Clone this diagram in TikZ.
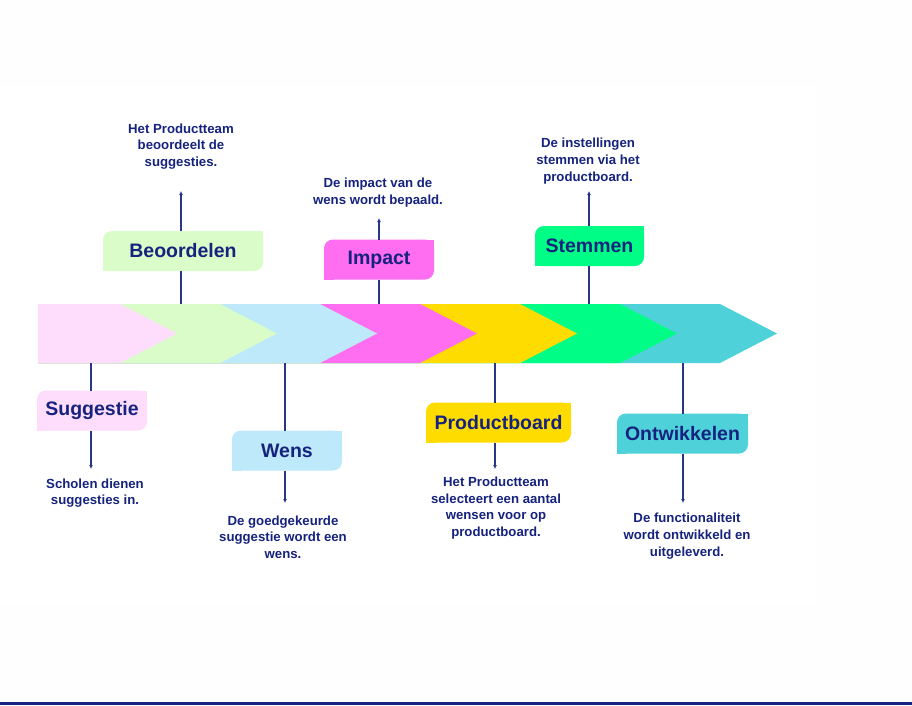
\documentclass[tikz,border=0pt]{standalone}
\usepackage{fontspec}
\setmainfont{Liberation Sans}
\usetikzlibrary{arrows.meta}

\definecolor{navy}{HTML}{16237E}
\definecolor{linec}{HTML}{2A3688}
\definecolor{pinkc}{HTML}{FDDDFB}
\definecolor{greenc}{HTML}{DAFCC8}
\definecolor{bluec}{HTML}{BEE9FB}
\definecolor{magc}{HTML}{FF6DF0}
\definecolor{yelc}{HTML}{FFDC00}
\definecolor{grnc}{HTML}{00FD86}
\definecolor{tealc}{HTML}{4FD1DA}
\definecolor{paper}{HTML}{FEFEFE}

% leaf-shaped label: rounded top-left and bottom-right, square elsewhere
\newcommand\squarecorners[2]{%
  \fill[#2] (#1.north east) rectangle ([xshift=-10pt,yshift=-10pt]#1.north east);
  \fill[#2] (#1.south west) rectangle ([xshift=10pt,yshift=10pt]#1.south west);}

\begin{document}
\begin{tikzpicture}[x=1pt,y=-1pt,
  stagebox/.style={fill=#1, rounded corners=9pt, minimum height=40pt,
    inner sep=0pt, outer sep=0pt, text=navy,
    font=\bfseries\fontsize{19.5}{22}\selectfont},
  desc/.style={align=center, text=navy, inner sep=0pt,
    font=\bfseries\fontsize{13.2}{16.7}\selectfont},
  link/.style={draw=linec, line width=1.1pt},
  arr/.style={link, -{Latex[length=4pt,width=4pt]}}]

\useasboundingbox (0,0) rectangle (912,705);
\fill[paper] (0,0) rectangle (912,705);
\fill[white] (0,85) rectangle (815,605);

% chevron band, drawn back to front so each segment covers the next
\foreach \c/\i in {tealc/6,grnc/5,yelc/4,magc/3,bluec/2,greenc/1,pinkc/0}{
  \pgfmathsetmacro\R{120+100*\i}
  \pgfmathsetmacro\T{177+100*\i}
  \fill[\c] (38,304) -- (\R,304) -- (\T,333.5) -- (\R,363) -- (38,363) -- cycle;
}

% stage labels
\node[stagebox=greenc, minimum width=160pt] (beo) at (183,251) {Beoordelen};
\node[stagebox=magc,   minimum width=110pt] (imp) at (379,259.5) {Impact};
\node[stagebox=grnc,   minimum width=109pt] (stem) at (589.5,246) {Stemmen};
\node[stagebox=pinkc,  minimum width=110pt] (sug) at (92,410.5) {Suggestie};
\node[stagebox=bluec,  minimum width=110pt] (wens) at (287,450.5) {Wens};
\node[stagebox=yelc,   minimum width=145pt] (pb) at (498.5,422.5) {Productboard};
\node[stagebox=tealc,  minimum width=131pt] (ont) at (682.5,433.5) {Ontwikkelen};
\squarecorners{beo}{greenc}
\squarecorners{imp}{magc}
\squarecorners{stem}{grnc}
\squarecorners{sug}{pinkc}
\squarecorners{wens}{bluec}
\squarecorners{pb}{yelc}
\squarecorners{ont}{tealc}

% descriptions
\node[desc] (dbeo) at (181,146.5) {Het Productteam\\beoordeelt de\\suggesties.};
\node[desc] (dimp) at (378,192.5) {De impact van de\\wens wordt bepaald.};
\node[desc] (dstem) at (588,161) {De instellingen\\stemmen via het\\productboard.};
\node[desc] (dsug) at (95,493) {Scholen dienen\\suggesties in.};
\node[desc] (dwens) at (283,537) {De goedgekeurde\\suggestie wordt een\\wens.};
\node[desc] (dpb) at (496,508) {Het Productteam\\selecteert een aantal\\wensen voor op\\productboard.};
\node[desc] (dont) at (687,536) {De functionaliteit\\wordt ontwikkeld en\\uitgeleverd.};

% attachment points on the band and arrow ends
\coordinate (bbeo) at (181,304);  \coordinate (tbeo) at (181,191);
\coordinate (bimp) at (379,304);  \coordinate (timp) at (379,218);
\coordinate (bstem) at (589,304); \coordinate (tstem) at (589,191);
\coordinate (bsug) at (91,363);   \coordinate (tsug) at (91,469);
\coordinate (bwens) at (285,363); \coordinate (twens) at (285,503);
\coordinate (bpb) at (495,363);   \coordinate (tpb) at (495,469);
\coordinate (bont) at (683,363);  \coordinate (tont) at (683,503);

\foreach \n in {beo,imp,stem}{
  \draw[link] (b\n) -- (b\n |- \n.south);
  \draw[arr] (b\n |- \n.north) -- (t\n);
}
\foreach \n in {sug,wens,pb,ont}{
  \draw[link] (b\n) -- (b\n |- \n.north);
  \draw[arr] (b\n |- \n.south) -- (t\n);
}

% rule along the foot
\coordinate (footl) at (0,703.5);
\coordinate (footr) at (912,703.5);
\draw[navy, line width=3pt] (footl) -- (footr);
\end{tikzpicture}
\end{document}
